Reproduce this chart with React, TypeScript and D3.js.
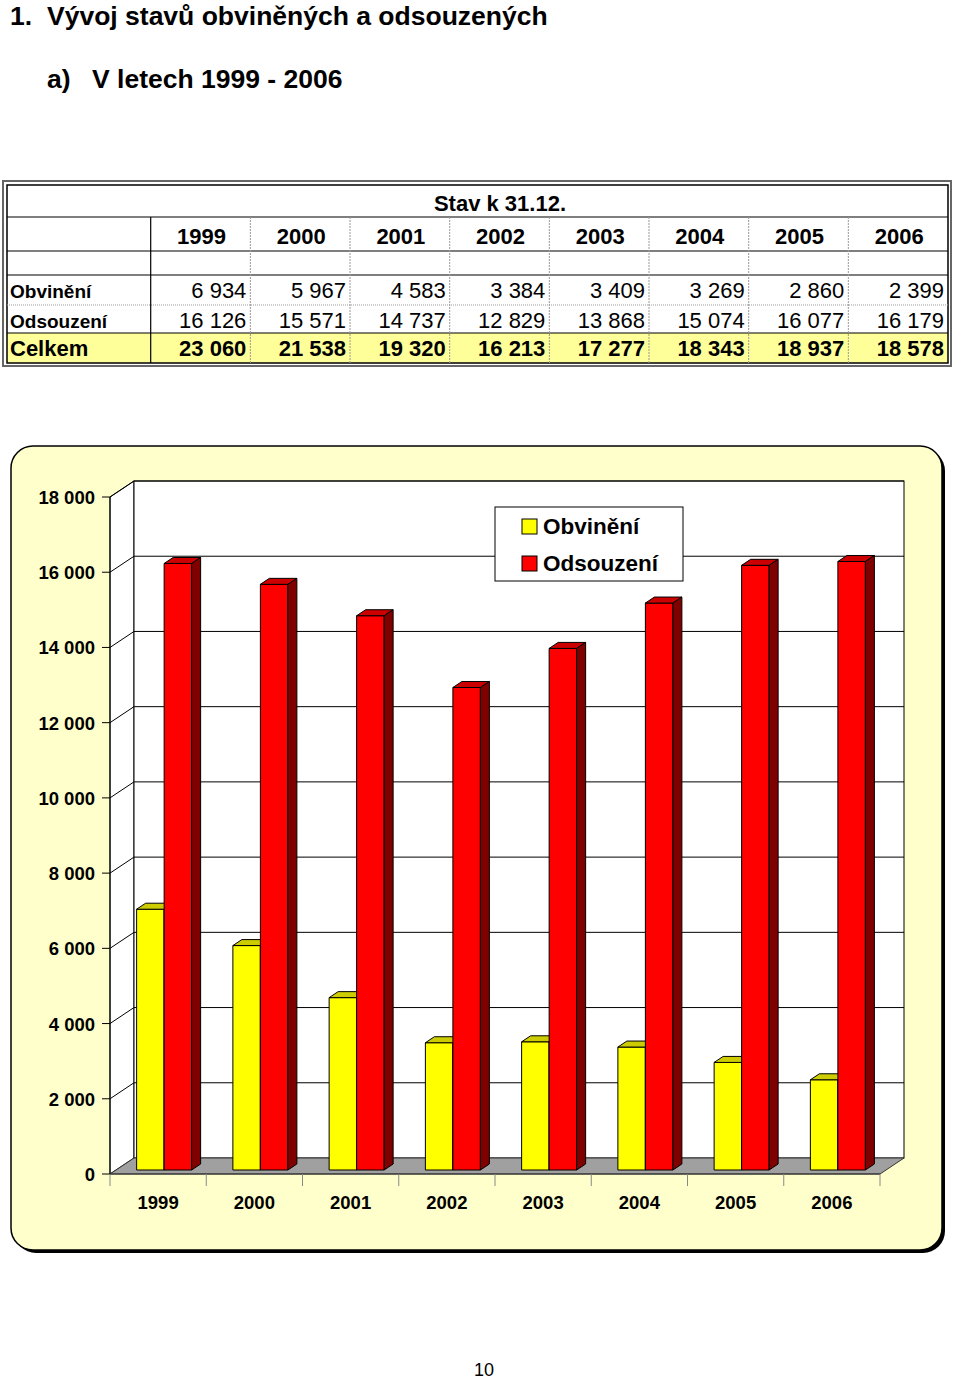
import React, { useEffect, useRef } from 'react'
import * as d3 from 'd3'

const years = ['1999', '2000', '2001', '2002', '2003', '2004', '2005', '2006']
const obvineni = [6934, 5967, 4583, 3384, 3409, 3269, 2860, 2399]
const odsouzeni = [16126, 15571, 14737, 12829, 13868, 15074, 16077, 16179]
const celkem = [23060, 21538, 19320, 16213, 17277, 18343, 18937, 18578]
const yTicks = [0, 2000, 4000, 6000, 8000, 10000, 12000, 14000, 16000, 18000]
const seriesNames = ['Obvinění', 'Odsouzení']

const FONT = "'Liberation Sans', Arial, sans-serif"

const App: React.FC = () => {
  const ref = useRef<HTMLDivElement>(null)

  useEffect(() => {
    if (!ref.current) return
    document.body.style.margin = '0'

    const svg = d3
      .select(ref.current)
      .append('svg')
      .attr('width', 960)
      .attr('height', 1381)
      .style('display', 'block')
      .attr('font-family', FONT)

    const fmt = d3
      .formatLocale({ decimal: ',', thousands: ' ', grouping: [3], currency: ['', ''] })
      .format(',d')

    // headings
    svg.append('text').attr('x', 10).attr('y', 25).attr('font-size', 26.5).attr('font-weight', 'bold').text('1.')
    svg.append('text').attr('x', 47).attr('y', 25).attr('font-size', 26.5).attr('font-weight', 'bold')
      .text('Vývoj stavů obviněných a odsouzených')
    svg.append('text').attr('x', 47).attr('y', 88).attr('font-size', 26.5).attr('font-weight', 'bold').text('a)')
    svg.append('text').attr('x', 92).attr('y', 88).attr('font-size', 26.5).attr('font-weight', 'bold')
      .text('V letech 1999 - 2006')

    // ---------- table ----------
    const table = svg.append('g')
    const tL = 7, tR = 948, tT = 185, tB = 363
    const firstCol = 150.7
    const col = d3.scaleBand<string>().domain(years).range([firstCol, tR])
    const rowLines = { head: 217, years: 251, blank: 275, obv: 305, ods: 333 }

    table.append('rect').attr('x', 3).attr('y', 181).attr('width', 948).attr('height', 185)
      .attr('fill', 'none').attr('stroke', '#666').attr('stroke-width', 2)
    table.append('rect').attr('x', tL).attr('y', rowLines.ods).attr('width', tR - tL).attr('height', tB - rowLines.ods)
      .attr('fill', '#FFFF99')
    table.append('rect').attr('x', tL).attr('y', tT).attr('width', tR - tL).attr('height', tB - tT)
      .attr('fill', 'none').attr('stroke', '#000').attr('stroke-width', 1.5)

    ;[rowLines.head, rowLines.years, rowLines.blank, rowLines.ods].forEach(y => {
      table.append('line').attr('x1', tL).attr('x2', tR).attr('y1', y).attr('y2', y)
        .attr('stroke', '#000').attr('stroke-width', 1.2)
    })
    table.append('line').attr('x1', tL).attr('x2', tR).attr('y1', rowLines.obv).attr('y2', rowLines.obv)
      .attr('stroke', '#999').attr('stroke-width', 1).attr('stroke-dasharray', '1,1')
    table.append('line').attr('x1', firstCol).attr('x2', firstCol).attr('y1', rowLines.head).attr('y2', tB)
      .attr('stroke', '#000').attr('stroke-width', 1.2)
    years.slice(1).forEach(yr => {
      const x = col(yr)!
      table.append('line').attr('x1', x).attr('x2', x).attr('y1', rowLines.head).attr('y2', tB)
        .attr('stroke', '#999').attr('stroke-width', 1).attr('stroke-dasharray', '2,1')
    })

    table.append('text').attr('x', 500).attr('y', 211).attr('text-anchor', 'middle')
      .attr('font-size', 22).attr('font-weight', 'bold').text('Stav k 31.12.')

    years.forEach((yr, i) => {
      const x0 = col(yr)!
      const xr = x0 + col.bandwidth() - 4
      table.append('text').attr('x', x0 + col.bandwidth() / 2 + 1).attr('y', 244).attr('text-anchor', 'middle')
        .attr('font-size', 22).attr('font-weight', 'bold').text(yr)
      table.append('text').attr('x', xr).attr('y', 298).attr('text-anchor', 'end')
        .attr('font-size', 22).text(fmt(obvineni[i]))
      table.append('text').attr('x', xr).attr('y', 327.5).attr('text-anchor', 'end')
        .attr('font-size', 22).text(fmt(odsouzeni[i]))
      table.append('text').attr('x', xr).attr('y', 356).attr('text-anchor', 'end')
        .attr('font-size', 22).attr('font-weight', 'bold').text(fmt(celkem[i]))
    })
    table.append('text').attr('x', 10).attr('y', 298).attr('font-size', 19).attr('font-weight', 'bold').text('Obvinění')
    table.append('text').attr('x', 10).attr('y', 327.5).attr('font-size', 19).attr('font-weight', 'bold').text('Odsouzení')
    table.append('text').attr('x', 10).attr('y', 356).attr('font-size', 22).attr('font-weight', 'bold').text('Celkem')

    // ---------- chart ----------
    const chart = svg.append('g')
    chart.append('rect').attr('x', 14).attr('y', 449).attr('width', 931).attr('height', 804)
      .attr('rx', 22).attr('fill', '#000')
    chart.append('rect').attr('x', 11).attr('y', 446).attr('width', 931).attr('height', 804)
      .attr('rx', 22).attr('fill', '#FFFFCC').attr('stroke', '#000').attr('stroke-width', 1.5)

    const dx = 24, dy = -16
    const x = d3.scaleBand<string>().domain(years).range([110, 880])
    const inner = d3.scaleBand<string>().domain(seriesNames).range([0, x.bandwidth()]).paddingOuter(0.75)
    const y = d3.scaleLinear().domain([0, 18000]).range([1174, 497])
    const xL = 110, xR = 880

    // side wall
    chart.append('polygon')
      .attr('points', [[xL, y(18000)], [xL + dx, y(18000) + dy], [xL + dx, y(0) + dy], [xL, y(0)]].map(p => p.join(',')).join(' '))
      .attr('fill', '#fff').attr('stroke', '#000').attr('stroke-width', 1)
    // back wall
    chart.append('rect').attr('x', xL + dx).attr('y', y(18000) + dy).attr('width', xR - xL)
      .attr('height', y(0) - y(18000)).attr('fill', '#fff').attr('stroke', '#000').attr('stroke-width', 1)
    // floor
    chart.append('polygon')
      .attr('points', [[xL, y(0)], [xR, y(0)], [xR + dx, y(0) + dy], [xL + dx, y(0) + dy]].map(p => p.join(',')).join(' '))
      .attr('fill', '#A0A0A0').attr('stroke', '#333').attr('stroke-width', 1)

    // gridlines
    yTicks.slice(1).forEach(t => {
      const yy = y(t)
      chart.append('polyline')
        .attr('points', `${xL},${yy} ${xL + dx},${yy + dy} ${xR + dx},${yy + dy}`)
        .attr('fill', 'none').attr('stroke', '#000').attr('stroke-width', 1)
    })

    // y axis
    chart.append('line').attr('x1', xL).attr('x2', xL).attr('y1', y(18000)).attr('y2', y(0))
      .attr('stroke', '#000').attr('stroke-width', 1)
    yTicks.forEach(t => {
      chart.append('line').attr('x1', xL - 8).attr('x2', xL).attr('y1', y(t)).attr('y2', y(t))
        .attr('stroke', '#000').attr('stroke-width', 1)
      chart.append('text').attr('x', 95).attr('y', y(t) + 7).attr('text-anchor', 'end')
        .attr('font-size', 18.5).attr('font-weight', 'bold').text(fmt(t))
    })

    // x axis
    chart.append('line').attr('x1', xL).attr('x2', xR).attr('y1', y(0)).attr('y2', y(0))
      .attr('stroke', '#333').attr('stroke-width', 1)
    ;[...years.map(d => x(d)!), xR].forEach(tx => {
      chart.append('line').attr('x1', tx).attr('x2', tx).attr('y1', y(0)).attr('y2', y(0) + 12)
        .attr('stroke', '#888').attr('stroke-width', 1)
    })
    years.forEach(yr => {
      chart.append('text').attr('x', x(yr)! + x.bandwidth() / 2).attr('y', 1209).attr('text-anchor', 'middle')
        .attr('font-size', 18.5).attr('font-weight', 'bold').text(yr)
    })

    // bars
    const z0 = 0.25, dz = 0.375
    const colors = [
      { front: '#FFFF00', top: '#CCCC00', side: '#999900' },
      { front: '#FF0000', top: '#CC0000', side: '#800000' },
    ]
    const bars = chart.append('g').attr('stroke', '#000').attr('stroke-width', 1).attr('stroke-linejoin', 'round')
    years.forEach((yr, i) => {
      ;[obvineni[i], odsouzeni[i]].forEach((v, s) => {
        const c = colors[s]
        const left = x(yr)! + inner(seriesNames[s])! + dx * z0
        const right = left + inner.bandwidth()
        const top = y(v) + dy * z0
        const bottom = y(0) + dy * z0
        const ox = dx * dz, oy = dy * dz
        bars.append('rect').attr('x', left).attr('y', top).attr('width', right - left).attr('height', bottom - top)
          .attr('fill', c.front)
        bars.append('polygon')
          .attr('points', `${left},${top} ${right},${top} ${right + ox},${top + oy} ${left + ox},${top + oy}`)
          .attr('fill', c.top)
        bars.append('polygon')
          .attr('points', `${right},${top} ${right + ox},${top + oy} ${right + ox},${bottom + oy} ${right},${bottom}`)
          .attr('fill', c.side)
      })
    })

    // legend
    const lg = chart.append('g')
    lg.append('rect').attr('x', 495).attr('y', 507).attr('width', 188).attr('height', 74)
      .attr('fill', '#fff').attr('stroke', '#000').attr('stroke-width', 1)
    seriesNames.forEach((name, s) => {
      const by = s === 0 ? 534 : 571
      lg.append('rect').attr('x', 522).attr('y', by - 15).attr('width', 15).attr('height', 15)
        .attr('fill', colors[s].front).attr('stroke', '#000').attr('stroke-width', 1)
      lg.append('text').attr('x', 543).attr('y', by).attr('font-size', 22.5).attr('font-weight', 'bold').text(name)
    })

    // page number
    svg.append('text').attr('x', 484).attr('y', 1376).attr('text-anchor', 'middle').attr('font-size', 18).text('10')

    return () => {
      svg.remove()
    }
  }, [])

  return <div ref={ref} style={{ width: 960, height: 1381 }} />
}

export default App
